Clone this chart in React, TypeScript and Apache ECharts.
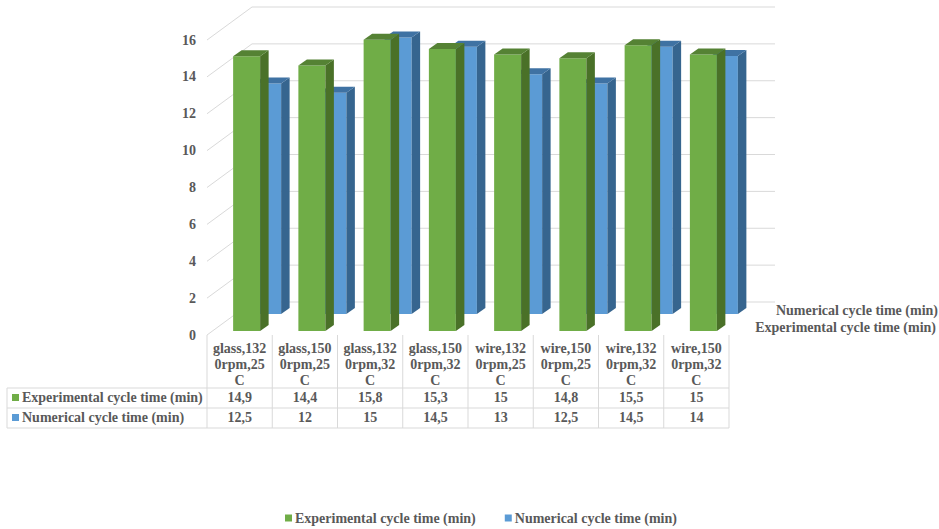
import React, { useEffect, useRef } from "react";
import * as echarts from "echarts";

const categories = [
  "glass,132\n0rpm,25\nC",
  "glass,150\n0rpm,25\nC",
  "glass,132\n0rpm,32\nC",
  "glass,150\n0rpm,32\nC",
  "wire,132\n0rpm,25\nC",
  "wire,150\n0rpm,25\nC",
  "wire,132\n0rpm,32\nC",
  "wire,150\n0rpm,32\nC",
];
const experimental = [14.9, 14.4, 15.8, 15.3, 15, 14.8, 15.5, 15];
const numerical = [12.5, 12, 15, 14.5, 13, 12.5, 14.5, 14];
const yTicks = [0, 2, 4, 6, 8, 10, 12, 14, 16];
const expName = "Experimental cycle time (min)";
const numName = "Numerical cycle time (min)";

const FONT = "'Liberation Serif', serif";
const TEXT = "#595959";
const LINE = "#d9d9d9";
const GREEN = { front: "#70ad47", side: "#4a7128", top: "#558234" };
const BLUE = { front: "#5b9bd5", side: "#36658f", top: "#3f72a3" };

const gridLeft = 207;
const gridWidth = 522;
const gridTop = 40;
const gridBottomY = 335;
const colW = gridWidth / categories.length;
const rowY = [388, 408, 428];

const fmt = (v: number) => String(v).replace(".", ",");

function bar3d(colors: typeof GREEN, xOff: number, baseOff: number) {
  return (params: any, api: any) => {
    const i = api.value(0);
    const c = api.coord([i, api.value(1)]);
    const z = api.coord([i, 0]);
    const w = 27;
    const dx = 8.5;
    const dy = 6;
    const x = z[0] + xOff;
    const top = c[1] - baseOff;
    const base = z[1] - baseOff;
    return {
      type: "group",
      children: [
        { type: "rect", shape: { x, y: top, width: w, height: base - top }, style: { fill: colors.front } },
        {
          type: "polygon",
          shape: { points: [[x + w, top], [x + w + dx, top - dy], [x + w + dx, base - dy], [x + w, base]] },
          style: { fill: colors.side },
        },
        {
          type: "polygon",
          shape: { points: [[x, top], [x + dx, top - dy], [x + w + dx, top - dy], [x + w, top]] },
          style: { fill: colors.top },
        },
      ],
    };
  };
}

function wallItem(params: any, api: any) {
  const y = api.coord([0, api.value(1)])[1];
  const sys = params.coordSys;
  const bx = sys.x + 45;
  const by = y - 33;
  const lineStyle = { stroke: LINE, lineWidth: 1, fill: "none" };
  return {
    type: "group",
    children: [
      { type: "line", shape: { x1: sys.x, y1: y, x2: bx, y2: by }, style: lineStyle },
      { type: "line", shape: { x1: bx, y1: by, x2: sys.x + sys.width + 46, y2: by }, style: lineStyle },
    ],
  };
}

function tableGraphics() {
  const els: any[] = [];
  const line = (x1: number, y1: number, x2: number, y2: number) =>
    els.push({ type: "line", shape: { x1, y1, x2, y2 }, style: { stroke: LINE, lineWidth: 1 }, silent: true });
  const txt = (x: number, y: number, text: string, align: string) =>
    els.push({
      type: "text",
      x,
      y,
      style: { text, fill: TEXT, font: `bold 14px ${FONT}`, textAlign: align, textVerticalAlign: "middle" },
      silent: true,
    });
  rowY.forEach((y) => line(7, y, gridLeft + gridWidth, y));
  line(7, rowY[0], 7, rowY[2]);
  for (let i = 0; i <= categories.length; i++) {
    const x = gridLeft + i * colW;
    line(x, gridBottomY, x, rowY[2]);
  }
  const rows = [
    { name: expName, vals: experimental, color: GREEN.front },
    { name: numName, vals: numerical, color: BLUE.front },
  ];
  rows.forEach((r, k) => {
    const cy = (rowY[k] + rowY[k + 1]) / 2 - 1;
    els.push({ type: "rect", shape: { x: 12, y: cy - 3, width: 7, height: 7 }, style: { fill: r.color }, silent: true });
    txt(22, cy, r.name, "left");
    r.vals.forEach((v, i) => txt(gridLeft + (i + 0.5) * colW, cy, fmt(v), "center"));
  });
  txt(938, 310, numName, "right");
  txt(936, 327, expName, "right");
  return els;
}

export default function App() {
  const ref = useRef<HTMLDivElement>(null);
  useEffect(() => {
    const chart = echarts.init(ref.current!, undefined, { renderer: "svg" });
    chart.setOption({
      animation: false,
      backgroundColor: "#ffffff",
      grid: { left: gridLeft, width: gridWidth, top: gridTop, height: gridBottomY - gridTop },
      xAxis: {
        type: "category",
        data: categories,
        axisLine: { show: false },
        axisTick: { show: false },
        axisLabel: {
          interval: 0,
          margin: 5,
          color: TEXT,
          fontFamily: FONT,
          fontWeight: "bold",
          fontSize: 14,
          lineHeight: 16,
        },
      },
      yAxis: {
        type: "value",
        min: 0,
        max: 16,
        interval: 2,
        splitLine: { show: false },
        axisLine: { show: false },
        axisTick: { show: false },
        axisLabel: {
          margin: 11,
          color: TEXT,
          fontFamily: FONT,
          fontWeight: "bold",
          fontSize: 14,
          padding: [3, 0, 0, 0],
        },
      },
      legend: {
        data: [expName, numName],
        left: 280,
        top: 506,
        icon: "rect",
        itemWidth: 7,
        itemHeight: 7,
        itemGap: 29,
        textStyle: { color: TEXT, fontFamily: FONT, fontWeight: "bold", fontSize: 14, padding: [0, 0, 0, -2] },
      },
      graphic: tableGraphics(),
      series: [
        {
          type: "custom",
          name: "wall",
          silent: true,
          clip: false,
          z: 1,
          data: yTicks.map((v) => [0, v]),
          encode: { x: 0, y: 1 },
          renderItem: wallItem,
        },
        {
          type: "custom",
          name: numName,
          clip: false,
          z: 2,
          itemStyle: { color: BLUE.front },
          data: numerical.map((v, i) => [i, v]),
          encode: { x: 0, y: 1 },
          renderItem: bar3d(BLUE, 14.5, 21),
        },
        {
          type: "custom",
          name: expName,
          clip: false,
          z: 3,
          itemStyle: { color: GREEN.front },
          data: experimental.map((v, i) => [i, v]),
          encode: { x: 0, y: 1 },
          renderItem: bar3d(GREEN, -6.5, 4),
        },
      ],
    });
    return () => chart.dispose();
  }, []);
  return <div ref={ref} style={{ position: "absolute", left: 0, top: 0, width: 939, height: 529 }} />;
}
